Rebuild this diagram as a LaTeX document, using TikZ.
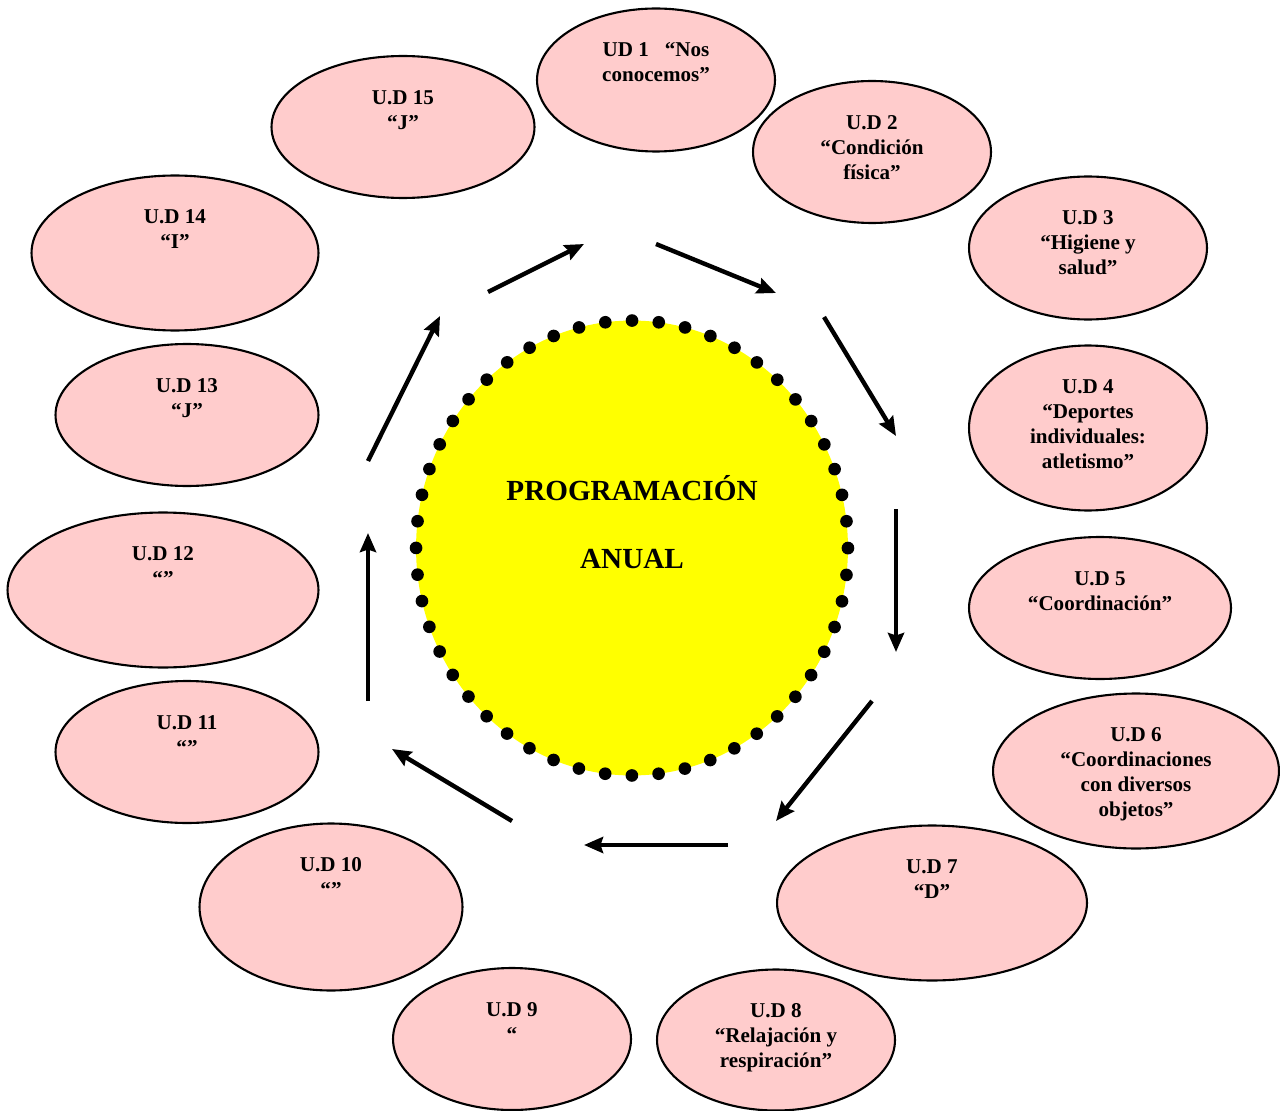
\documentclass[tikz,border=0pt]{standalone}
\usepackage{fontspec}
\setmainfont{Liberation Serif}
\usetikzlibrary{shapes.geometric,arrows.meta}
\definecolor{udpink}{RGB}{255,204,204}
\definecolor{centreyellow}{RGB}{255,255,0}
\tikzset{
  ud/.style={ellipse, draw=black, line width=1.2pt, fill=udpink, inner sep=0pt},
  udtext/.style={anchor=north, align=center, inner sep=0pt, font=\bfseries\fontsize{12}{14.2}\selectfont},
  arr/.style={line width=2.5pt, -{Stealth[length=0.38cm,width=0.32cm,inset=0.05cm]}},
}
\begin{document}
\begin{tikzpicture}[x=0.02cm, y=-0.02cm]
\useasboundingbox (0,0) rectangle (1280,1111);
% centre
\node[ellipse, fill=centreyellow, draw=black, line width=7.2pt, line cap=round,
  dash pattern=on 0pt off 15.25pt, minimum width=8.64cm, minimum height=9.1cm,
  inner sep=0pt] (C) at (632,548) {};
\node[align=center, font=\bfseries\fontsize{16.6}{38.6}\selectfont] (CT) at (632,522) {PROGRAMACIÓN\\ANUAL};
% unidades
\foreach \n/\x/\y/\w/\h/\txt in {
  1/656/80/4.76/2.86/{UD 1\ \ \ “Nos\\conocemos”},
  2/872/152/4.76/2.84/{U.D 2\\“Condición\\física”},
  3/1088/248/4.76/2.86/{U.D 3\\“Higiene y\\salud”},
  4/1088/428/4.76/3.3/{U.D 4\\“Deportes\\individuales:\\atletismo”},
  5/1100/608/5.24/2.84/{U.D 5\\“Coordinación”},
  6/1136/771/5.72/3.1/{U.D 6\\“Coordinaciones\\con diversos\\objetos”},
  7/932/903/6.2/3.1/{U.D 7\\“D”},
  8/776/1040/4.76/2.82/{U.D 8\\“Relajación y\\respiración”},
  9/512/1039/4.76/2.84/{U.D 9\\“},
  10/331/907/5.26/3.34/{U.D 10\\“”},
  11/187/752/5.26/2.84/{U.D 11\\“”},
  12/163/590/6.22/3.1/{U.D 12\\“”},
  13/187/415/5.26/2.84/{U.D 13\\“J”},
  14/175/253/5.74/3.1/{U.D 14\\“I”},
  15/403/127/5.26/2.84/{U.D 15\\“J”}}{
  \node[ud, minimum width=\w cm, minimum height=\h cm] (U\n) at (\x,\y) {};
  \node[udtext] (T\n) at ([yshift=-0.7cm]U\n.north) {\txt};
}
% flechas
\foreach \k/\a/\b/\c/\d in {1/488/292/584/244, 2/656/244/776/293,
  3/824/317/896/436, 4/896/509/896/652, 5/872/701/776/821, 6/728/845/584/845,
  7/512/821/392/749, 8/368/701/368/533, 9/368/461/440/316}{
  \coordinate (S\k) at (\a,\b);
  \coordinate (E\k) at (\c,\d);
  \draw[arr] (S\k) -- (E\k);
}
\end{tikzpicture}
\end{document}
